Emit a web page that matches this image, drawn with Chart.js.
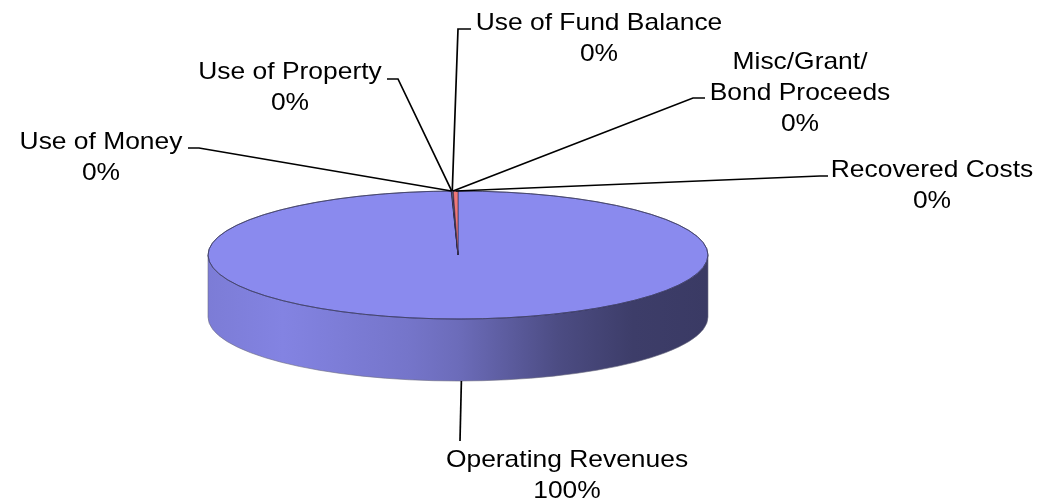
<!DOCTYPE html>
<html>
<head>
<meta charset="utf-8">
<script src="https://cdn.jsdelivr.net/npm/chart.js@4.4.1/dist/chart.umd.min.js"></script>
<style>
html, body { margin: 0; padding: 0; background: #fff; }
#wrap { width: 1041px; height: 503px; position: relative; }
</style>
</head>
<body>
<div id="wrap"><canvas id="pie"></canvas></div>
<script>
const categories = ['Operating Revenues', 'Use of Money', 'Use of Property', 'Use of Fund Balance', ['Misc/Grant/', 'Bond Proceeds'], 'Recovered Costs'];
const values = [99.57, 0.03, 0.01, 0.05, 0.04, 0.3];
const sliceColors = ['#8a8aee', '#993366', '#ffffcc', '#ccffff', '#660066', '#f07878'];

// label placement: text centre x, first line centre y, leader elbow and tail
const labelLayout = [
  { x: 567, y: 458, elbow: [460, 441], tail: null },
  { x: 101, y: 140, elbow: [199, 148], tail: [188, 148] },
  { x: 290, y: 70, elbow: [398, 79], tail: [387, 79] },
  { x: 599, y: 21, elbow: [458, 29], tail: [471, 29] },
  { x: 800, y: 60, elbow: [693, 98], tail: [705, 98] },
  { x: 932, y: 168, elbow: [820, 176], tail: [828, 176] }
];

const tilt = 0.256;
const depth = 62;
const sideStops = [[0, 0.9], [0.15, 0.95], [0.4, 0.85], [0.5, 0.78], [0.7, 0.55], [0.85, 0.44], [1, 0.42]];

function shade(hex, f) {
  const n = parseInt(hex.slice(1), 16);
  const r = Math.round(((n >> 16) & 255) * f);
  const g = Math.round(((n >> 8) & 255) * f);
  const b = Math.round((n & 255) * f);
  return 'rgb(' + r + ',' + g + ',' + b + ')';
}

const pie3d = {
  id: 'pie3d',
  beforeDatasetsDraw(chart) {
    const ctx = chart.ctx;
    const arcs = chart.getDatasetMeta(0).data;
    const cx = arcs[0].x, cy = arcs[0].y, r = arcs[0].outerRadius, ry = r * tilt;
    // the side wall, only the front half shows
    arcs.forEach((arc, i) => {
      for (const off of [-2 * Math.PI, 0, 2 * Math.PI]) {
        const lo = Math.max(arc.startAngle, off);
        const hi = Math.min(arc.endAngle, off + Math.PI);
        if (hi <= lo) continue;
        const g = ctx.createLinearGradient(cx - r, 0, cx + r, 0);
        sideStops.forEach(([p, f]) => g.addColorStop(p, shade(sliceColors[i], f)));
        ctx.beginPath();
        ctx.ellipse(cx, cy, r, ry, 0, lo, hi);
        ctx.ellipse(cx, cy + depth, r, ry, 0, hi, lo, true);
        ctx.closePath();
        ctx.fillStyle = g;
        ctx.fill();
      }
    });
    ctx.beginPath();
    ctx.ellipse(cx, cy + depth, r, ry, 0, 0, Math.PI);
    ctx.strokeStyle = 'rgba(110,110,130,0.6)';
    ctx.lineWidth = 1;
    ctx.stroke();
    ctx.beginPath();
    ctx.moveTo(cx - r, cy); ctx.lineTo(cx - r, cy + depth);
    ctx.moveTo(cx + r, cy); ctx.lineTo(cx + r, cy + depth);
    ctx.stroke();
    // squash the pie into an ellipse for the top face
    ctx.save();
    ctx.translate(cx, cy);
    ctx.scale(1, tilt);
    ctx.translate(-cx, -cy);
  },
  afterDatasetsDraw(chart) {
    const ctx = chart.ctx;
    ctx.restore();
    const arcs = chart.getDatasetMeta(0).data;
    const cx = arcs[0].x, cy = arcs[0].y, r = arcs[0].outerRadius, ry = r * tilt;
    ctx.beginPath();
    ctx.ellipse(cx, cy, r, ry, 0, 0, 2 * Math.PI);
    ctx.strokeStyle = 'rgba(60,60,100,0.75)';
    ctx.lineWidth = 1;
    ctx.stroke();

    const total = values.reduce((a, b) => a + b, 0);
    ctx.fillStyle = '#000';
    ctx.font = '24px "Liberation Sans", Arial, sans-serif';
    ctx.textAlign = 'center';
    ctx.textBaseline = 'alphabetic';
    arcs.forEach((arc, i) => {
      const mid = (arc.startAngle + arc.endAngle) / 2;
      let ax = cx + r * Math.cos(mid);
      let ay = cy + ry * Math.sin(mid);
      if (Math.sin(mid) > 0) ay += depth;
      const lay = labelLayout[i];
      ctx.beginPath();
      ctx.moveTo(ax, ay);
      ctx.lineTo(lay.elbow[0], lay.elbow[1]);
      if (lay.tail) ctx.lineTo(lay.tail[0], lay.tail[1]);
      ctx.strokeStyle = '#000';
      ctx.lineWidth = 1.7;
      ctx.stroke();

      const name = categories[i];
      const lines = (Array.isArray(name) ? name : [name]).concat([Math.round(values[i] / total * 100) + '%']);
      lines.forEach((t, j) => {
        ctx.save();
        ctx.translate(lay.x, lay.y + j * 31 + 8.6);
        ctx.scale(1.1, 1);
        ctx.fillText(t, 0, 0);
        ctx.restore();
      });
    });
  }
};

new Chart(document.getElementById('pie'), {
  type: 'pie',
  data: {
    labels: categories,
    datasets: [{
      data: values,
      backgroundColor: sliceColors,
      borderColor: 'rgba(40,40,70,0.9)',
      borderWidth: 1,
      radius: 250,
      clip: false
    }]
  },
  options: {
    responsive: true,
    maintainAspectRatio: false,
    animation: false,
    events: [],
    layout: { padding: { left: 0, right: 125, top: 7, bottom: 0 } },
    plugins: {
      legend: { display: false },
      tooltip: { enabled: false }
    }
  },
  plugins: [pie3d]
});
</script>
</body>
</html>
